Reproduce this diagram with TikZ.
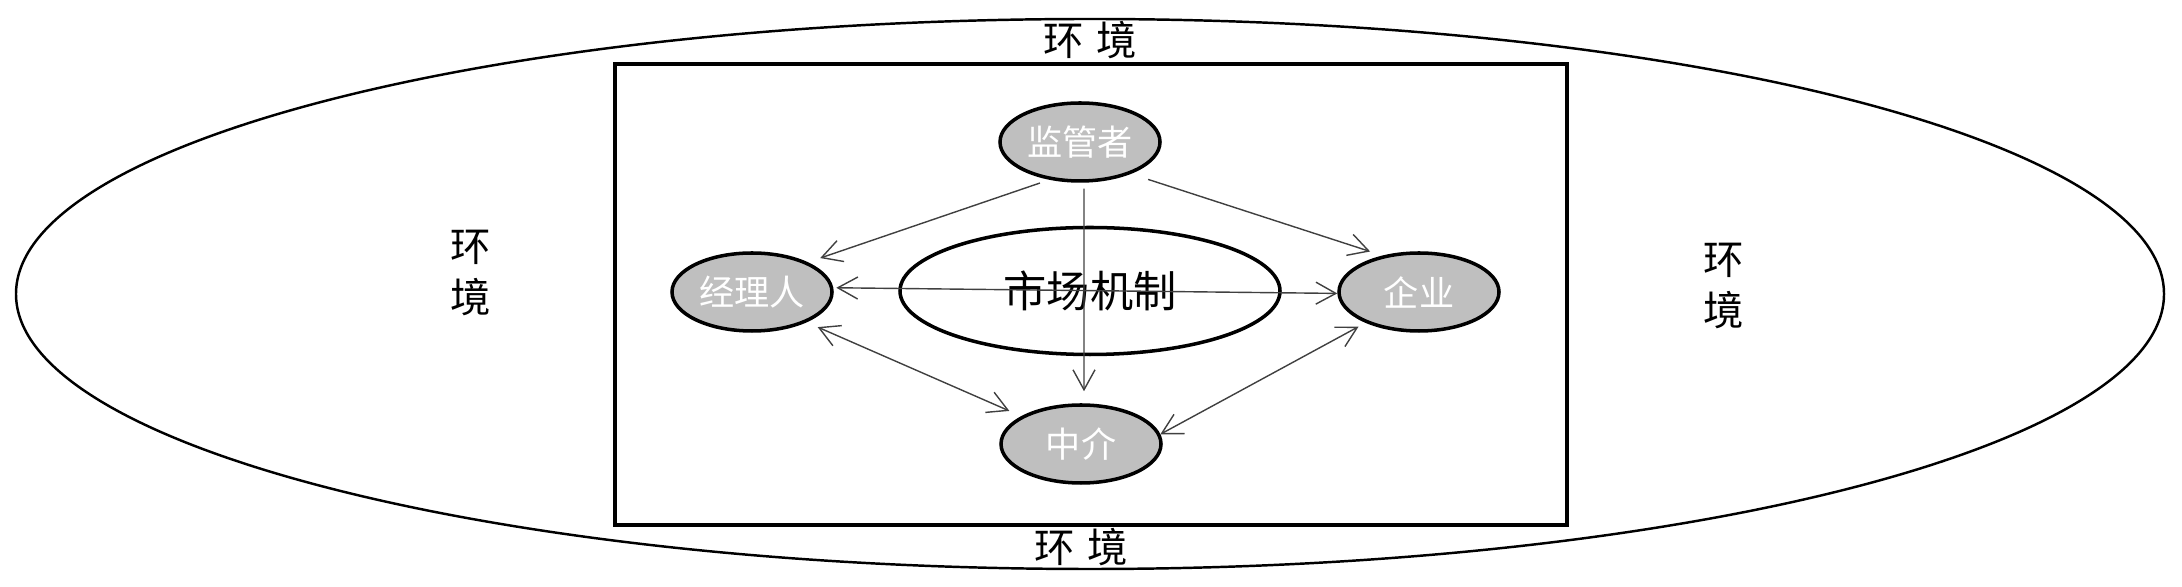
\documentclass[tikz,border=0pt]{standalone}
\usepackage{fontspec}
\setmainfont{Noto Sans CJK SC}
\usetikzlibrary{arrows.meta,shapes.geometric}

\tikzset{
  agent/.style={ellipse, draw, line width=1pt, fill=gray!50, inner sep=0pt,
                minimum width=1.6cm, minimum height=0.78cm,
                text=white, font=\fontsize{10}{12}\selectfont},
  market/.style={ellipse, draw, line width=1pt, inner sep=0pt,
                 minimum width=3.8cm, minimum height=1.27cm,
                 font=\fontsize{12.3}{14}\selectfont},
  env/.style={font=\fontsize{11.5}{14.5}\selectfont, align=center},
  link/.style={draw=black!75, line width=0.4pt,
               -{Straight Barb[length=2mm,width=2.2mm]}},
  both/.style={link, {Straight Barb[length=2mm,width=2.2mm]}-{Straight Barb[length=2mm,width=2.2mm]}}
}

\begin{document}
\begin{tikzpicture}
\useasboundingbox (0,0) rectangle (21.82,-5.87);
\draw[line width=0.7pt] (10.90,-2.94) ellipse [x radius=10.74cm, y radius=2.75cm];
\draw[line width=0.9pt] (6.15,-0.64) rectangle (15.67,-5.25);

\node[env] (env top)    at (10.90,-0.40) {环\hspace{0.3em}境};
\node[env] (env bottom) at (10.81,-5.47) {环\hspace{0.3em}境};
\node[env] (env left)   at (4.71,-2.73)  {环\\境};
\node[env] (env right)  at (17.24,-2.86) {环\\境};

\node[market] (market)    at (10.90,-2.91) {市场机制};
\node[agent]  (regulator) at (10.80,-1.42) {监管者};
\node[agent]  (manager)   at (7.52,-2.92)  {经理人};
\node[agent]  (firm)      at (14.19,-2.92) {企业};
\node[agent]  (broker)    at (10.81,-4.44) {中介};

\draw[link, shorten <=0.1cm, shorten >=0.13cm] (regulator.231) -- (manager.28);
\draw[link, shorten <=0.18cm, shorten >=0.13cm] (regulator.328) -- (firm.135);
\draw[link, shorten <=0.06cm, shorten >=0.12cm] ([xshift=0.04cm]regulator.south) -- ([xshift=0.03cm]broker.north);
\draw[both, shorten <=0.03cm] (manager.3) -- (firm.181);
\draw[both, shorten <=0.12cm, shorten >=0.13cm] (manager.331) -- (broker.155);
\draw[both, shorten <=0.08cm] (firm.210) -- (broker.7);
\end{tikzpicture}
\end{document}
